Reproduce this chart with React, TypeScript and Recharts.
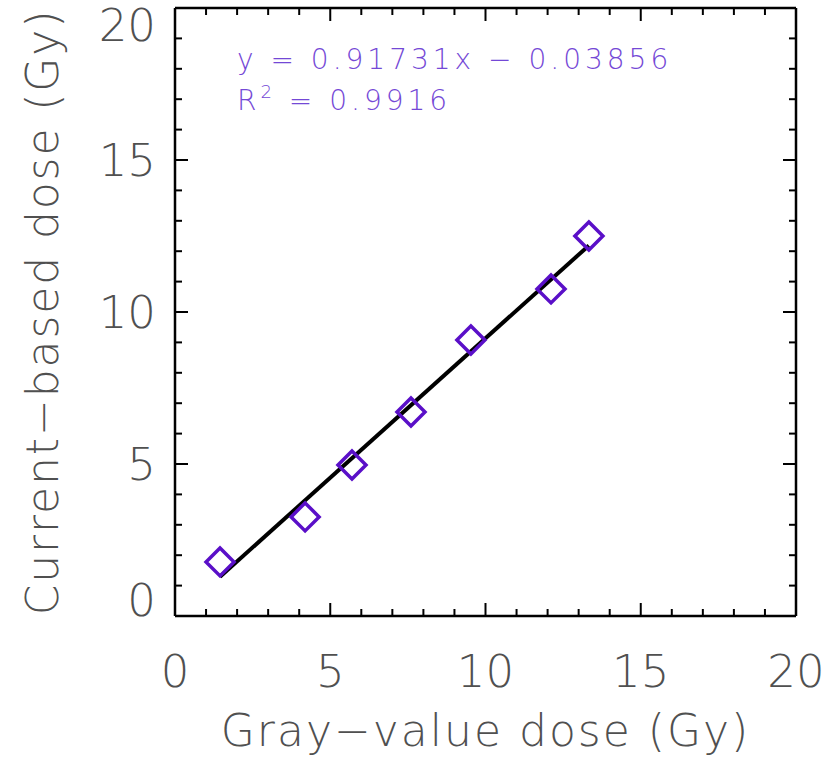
import React from 'react';
import { ScatterChart, Scatter, XAxis, YAxis } from 'recharts';

// measured points (Gy)
const grayDose = [1.45, 4.19, 5.7, 7.6, 9.53, 12.11, 13.33];
const currentDose = [1.78, 3.26, 4.97, 6.71, 9.08, 10.76, 12.5];
const axisTicks = [0, 1, 2, 3, 4, 5, 6, 7, 8, 9, 10, 11, 12, 13, 14, 15, 16, 17, 18, 19, 20];
const slope = 0.91731;
const intercept = -0.03856;
const rSquared = '0.9916';

const points = grayDose.map((x, i) => ({ x, y: currentDose[i] }));
const fitX = [grayDose[0], grayDose[grayDose.length - 1]];
const fitLine = fitX.map((x) => ({ x, y: slope * x + intercept }));

const FONT = '"DejaVu Sans", sans-serif';
const LABEL_COLOR = '#505050';
const MARKER = '#5a0fc8';
const EQ_COLOR = '#7448d6';

const tickLen = (v: number) => (v % 5 === 0 ? 13 : 7);

const BottomTick = (props: any) => {
  const { x, y, payload } = props;
  const v = payload.value;
  return (
    <g>
      <line x1={x} x2={x} y1={y} y2={y - tickLen(v)} stroke="#000" strokeWidth={2} />
      {v % 5 === 0 && (
        <text x={x} y={y + 71} textAnchor="middle" fontSize={45} fontWeight={200} fill={LABEL_COLOR} fontFamily={FONT}>
          {v}
        </text>
      )}
    </g>
  );
};

const TopTick = (props: any) => {
  const { x, y, payload } = props;
  const v = payload.value;
  return <line x1={x} x2={x} y1={y} y2={y + tickLen(v)} stroke="#000" strokeWidth={2} />;
};

const LeftTick = (props: any) => {
  const { x, y, payload } = props;
  const v = payload.value;
  // end labels sit inside the frame like the original
  const shift = v === 0 ? -16 : v === 20 ? 17 : 0;
  return (
    <g>
      <line x1={x} x2={x + tickLen(v)} y1={y} y2={y} stroke="#000" strokeWidth={2} />
      {v % 5 === 0 && (
        <text x={x - 19} y={y + shift + 16} textAnchor="end" fontSize={45} fontWeight={200} fill={LABEL_COLOR} fontFamily={FONT}>
          {v}
        </text>
      )}
    </g>
  );
};

const RightTick = (props: any) => {
  const { x, y, payload } = props;
  const v = payload.value;
  return <line x1={x} x2={x - tickLen(v)} y1={y} y2={y} stroke="#000" strokeWidth={2} />;
};

const Diamond = (props: any) => {
  const { cx, cy } = props;
  const r = 14;
  return (
    <polygon
      points={`${cx},${cy - r} ${cx + r},${cy} ${cx},${cy + r} ${cx - r},${cy}`}
      fill="none"
      stroke={MARKER}
      strokeWidth={3.5}
    />
  );
};

const NoDot = () => <g />;

const fmt = (n: number) => Math.abs(n).toFixed(5);

export default function App() {
  return (
    <div style={{ position: 'absolute', left: 0, top: 0, background: '#fff' }}>
      <ScatterChart width={834} height={758} margin={{ top: 0, right: 0, bottom: 0, left: 0 }}>
        <XAxis
          xAxisId="bottom"
          dataKey="x"
          type="number"
          domain={[0, 20]}
          allowDataOverflow
          ticks={axisTicks}
          interval={0}
          height={142}
          tickSize={0}
          tickMargin={0}
          tick={<BottomTick />}
          axisLine={{ stroke: '#000', strokeWidth: 2.5 }}
          label={{
            value: 'Gray\u2212value dose (Gy)',
            position: 'insideBottom',
            offset: 12,
            fontSize: 44,
            fontWeight: 200,
            fill: LABEL_COLOR,
            fontFamily: FONT,
            letterSpacing: 2,
          }}
        />
        <XAxis
          xAxisId="top"
          orientation="top"
          dataKey="x"
          type="number"
          domain={[0, 20]}
          allowDataOverflow
          ticks={axisTicks}
          interval={0}
          height={8}
          tickSize={0}
          tickMargin={0}
          tick={<TopTick />}
          axisLine={{ stroke: '#000', strokeWidth: 2.5 }}
        />
        <YAxis
          yAxisId="left"
          dataKey="y"
          type="number"
          domain={[0, 20]}
          allowDataOverflow
          ticks={axisTicks}
          interval={0}
          width={175}
          tickSize={0}
          tickMargin={0}
          tick={<LeftTick />}
          axisLine={{ stroke: '#000', strokeWidth: 2.5 }}
          label={{
            value: 'Current\u2212based dose (Gy)',
            angle: -90,
            position: 'insideLeft',
            offset: 42,
            fontSize: 44,
            fontWeight: 200,
            fill: LABEL_COLOR,
            fontFamily: FONT,
            letterSpacing: 1.9,
            style: { textAnchor: 'middle' },
          }}
        />
        <YAxis
          yAxisId="right"
          orientation="right"
          dataKey="y"
          type="number"
          domain={[0, 20]}
          allowDataOverflow
          ticks={axisTicks}
          interval={0}
          width={38}
          tickSize={0}
          tickMargin={0}
          tick={<RightTick />}
          axisLine={{ stroke: '#000', strokeWidth: 2.5 }}
        />
        <Scatter
          xAxisId="bottom"
          yAxisId="left"
          data={fitLine}
          line={{ stroke: '#000', strokeWidth: 4 }}
          shape={<NoDot />}
          isAnimationActive={false}
        />
        <Scatter
          xAxisId="bottom"
          yAxisId="left"
          data={points}
          shape={<Diamond />}
          isAnimationActive={false}
        />
        <text x={237} y={69} fontSize={28} fontFamily={FONT} fontWeight={300} fill={EQ_COLOR} letterSpacing={4}>
          {`y = ${slope.toFixed(5)}x \u2212 ${fmt(intercept)}`}
        </text>
        <text x={237} y={110} fontSize={28} fontFamily={FONT} fontWeight={300} fill={EQ_COLOR} letterSpacing={4}>
          R<tspan dy={-12} fontSize={18}>2</tspan>
          <tspan dy={12}>{` = ${rSquared}`}</tspan>
        </text>
      </ScatterChart>
    </div>
  );
}
